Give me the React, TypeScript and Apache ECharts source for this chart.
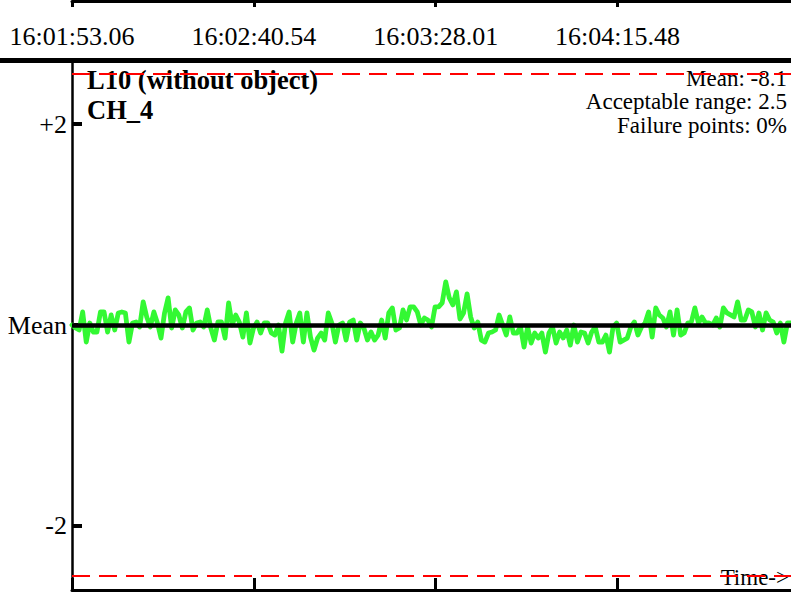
import React, { useEffect, useRef } from 'react';
import * as echarts from 'echarts';

// Time axis tick labels (seconds since start are derived from index of label)
const TIME_LABELS = ['16:01:53.06', '16:02:40.54', '16:03:28.01', '16:04:15.48'];
const TICK_STEP_S = 47.475;
const SPAN_S = 187.7;

// Y axis (deviation from mean)
const Y_TICKS = [-2, 0, 2];
const Y_TICK_LABELS = ['-2', 'Mean', '+2'];
const Y_MIN = -2.64;
const Y_MAX = 2.64;
const MEAN = 0;
const RANGE = 2.5;

const TITLE_LINES = ['L10 (without object)', 'CH_4'];
const INFO_LINES = ['Mean: -8.1', 'Acceptable range: 2.5', 'Failure points: 0%'];
const AXIS_NAME = 'Time->';

// Deviation from the mean, in order
const SEG1 = [0.00, -0.03, -0.05, 0.13, -0.17, 0.02, -0.07, -0.07, 0.13, 0.13, -0.07, 0.10, -0.05, 0.12, 0.13, 0.12, -0.17, 0.02, 0.03, -0.02, 0.23, 0.08, -0.02, 0.13, 0.02, -0.13, 0.12, 0.27, -0.03, 0.15, 0.10, -0.03, 0.13, 0.17];
const SEG2 = [-0.05, 0.02, 0.03, -0.02, 0.15, -0.03, -0.15, 0.03, 0.03, -0.13, 0.22, 0.00, 0.10, 0.03, -0.12, 0.12, -0.18, -0.03, 0.03, -0.08, 0.02, 0.02, -0.08, -0.10, 0.00, -0.26, 0.02, 0.13, -0.17, 0.02, 0.12, -0.17];
const SEG3 = [0.12, -0.12, -0.25, -0.13, -0.08, -0.15, 0.12, 0.02, -0.17, 0.00, 0.02, -0.15, 0.03, 0.05, -0.15, 0.02, -0.03, -0.15, -0.07, -0.15, -0.10, 0.05, -0.13, 0.12, 0.17, -0.05, -0.03, 0.15, 0.05, 0.18, 0.18, 0.13, 0.00, 0.07];
const SEG4 = [0.05, -0.02, 0.18, 0.18, 0.22, 0.43, 0.27, 0.20, 0.33, 0.06, 0.12, 0.31, 0.08, -0.03, 0.03, -0.15, -0.17, -0.08, -0.07, -0.05, 0.10, 0.00, -0.10, 0.08, -0.08, -0.08, -0.02, -0.22, -0.02, -0.18, -0.08, -0.13, -0.08];
const SEG5 = [-0.27, -0.08, -0.02, -0.18, -0.07, -0.13, -0.05, -0.20, 0.00, -0.17, -0.07, -0.08, -0.18, -0.07, -0.02, -0.17, -0.17, -0.10, -0.27, -0.02, 0.02, -0.17, -0.15, -0.13, -0.02, 0.03, -0.10, -0.02, 0.02, 0.13, -0.12, 0.17, 0.10, 0.07, -0.02];
const SEG6 = [0.13, -0.10, 0.15, -0.10, -0.08, 0.02, 0.03, 0.17, 0.02, 0.08, 0.02, 0.02, 0.00, 0.07, -0.02, 0.17, 0.12, 0.10, 0.08, 0.23, 0.05, 0.05, 0.15, 0.13, -0.02, 0.12, -0.05, 0.12, 0.05, 0.03, -0.08, 0.02, -0.17, 0.02, 0.02];
const DEVIATION = [...SEG1, ...SEG2, ...SEG3, ...SEG4, ...SEG5, ...SEG6];

const FONT = "'Liberation Serif', 'Times New Roman', serif";

export default function App() {
  const ref = useRef<HTMLDivElement>(null);
  useEffect(() => {
    if (!ref.current) return;
    const chart = echarts.init(ref.current, undefined, { renderer: 'svg' });
    const tickValues = TIME_LABELS.map((_, i) => i * TICK_STEP_S);
    const n = DEVIATION.length;
    const seriesData = DEVIATION.map((v, i) => [(i * SPAN_S) / (n - 1), v]);
    const labelFor = (v: number) => {
      const k = Math.round(v / TICK_STEP_S);
      return Math.abs(k * TICK_STEP_S - v) < 1e-6 && TIME_LABELS[k] ? TIME_LABELS[k] : '';
    };
    const txt = (text: string, x: number, y: number, size: number, align: string, weight = 'normal') => ({
      type: 'text',
      silent: true,
      style: {
        text, x, y,
        fontSize: size, fontFamily: FONT, fontWeight: weight,
        fill: '#000',
        textAlign: align, textVerticalAlign: 'middle',
        align, verticalAlign: 'middle',
      },
    });
    const option: any = {
      animation: false,
      backgroundColor: '#fff',
      grid: { left: 72, right: 0, top: 60, bottom: 12 },
      xAxis: [
        {
          type: 'value', position: 'bottom', min: 0, max: SPAN_S,
          axisLine: { onZero: false, lineStyle: { color: '#000', width: 3 } },
          axisTick: { customValues: tickValues, inside: true, length: 12, lineStyle: { color: '#000', width: 3 } },
          axisLabel: { show: false },
          splitLine: { show: false },
        },
        {
          type: 'value', position: 'top', min: 0, max: SPAN_S,
          axisLine: { show: false, onZero: false },
          axisTick: { show: false },
          axisLabel: {
            customValues: tickValues, margin: 11, fontSize: 26, fontFamily: FONT, color: '#000',
            formatter: (v: number) => labelFor(v),
          },
          splitLine: { show: false },
        },
        {
          type: 'value', position: 'top', offset: 59, min: 0, max: SPAN_S,
          axisLine: { onZero: false, lineStyle: { color: '#000', width: 3 } },
          axisTick: { customValues: tickValues, inside: true, length: 6, lineStyle: { color: '#000', width: 3 } },
          axisLabel: { show: false },
          splitLine: { show: false },
        },
      ],
      yAxis: {
        type: 'value', min: Y_MIN, max: Y_MAX,
        axisLine: { show: true, onZero: false, lineStyle: { color: '#000', width: 2.5 } },
        axisTick: { show: true, customValues: Y_TICKS, inside: true, length: 10, lineStyle: { color: '#000', width: 4 } },
        axisLabel: {
          customValues: Y_TICKS, margin: 5, fontSize: 26, fontFamily: FONT, color: '#000',
          formatter: (v: number) => {
            const i = Y_TICKS.findIndex((t) => Math.abs(t - v) < 1e-9);
            return i >= 0 ? Y_TICK_LABELS[i] : '';
          },
        },
        splitLine: { show: false },
      },
      series: [
        {
          type: 'line', data: [], z: 1, xAxisIndex: 0, yAxisIndex: 0,
          markLine: {
            silent: true, symbol: ['none', 'none'], label: { show: false },
            data: [
              { yAxis: MEAN, lineStyle: { color: '#000', width: 4.5, type: 'solid' } },
              { yAxis: RANGE, lineStyle: { color: '#ff0000', width: 2, type: [18, 9] } },
              { yAxis: -RANGE, lineStyle: { color: '#ff0000', width: 2, type: [18, 9] } },
            ],
          },
        },
        {
          type: 'line', data: seriesData, z: 3, xAxisIndex: 0, yAxisIndex: 0,
          showSymbol: false, symbol: 'none', silent: true,
          lineStyle: { color: '#33f833', width: 4.8, cap: 'round', join: 'round' },
        },
      ],
      graphic: [
        { type: 'rect', silent: true, shape: { x: 0, y: 58, width: 791, height: 5 }, style: { fill: '#000' } },
        txt(TITLE_LINES[0], 87, 80, 26.5, 'left', 'bold'),
        txt(TITLE_LINES[1], 87, 110, 26.5, 'left', 'bold'),
        txt(INFO_LINES[0], 787, 78, 23, 'right'),
        txt(INFO_LINES[1], 787, 101, 23, 'right'),
        txt(INFO_LINES[2], 787, 125, 23, 'right'),
        txt(AXIS_NAME, 789, 577, 23, 'right'),
      ],
    };
    chart.setOption(option);
    return () => chart.dispose();
  }, []);
  return (
    <div
      ref={ref}
      style={{ position: 'fixed', left: 0, top: 0, width: 791, height: 602, background: '#fff' }}
    />
  );
}
